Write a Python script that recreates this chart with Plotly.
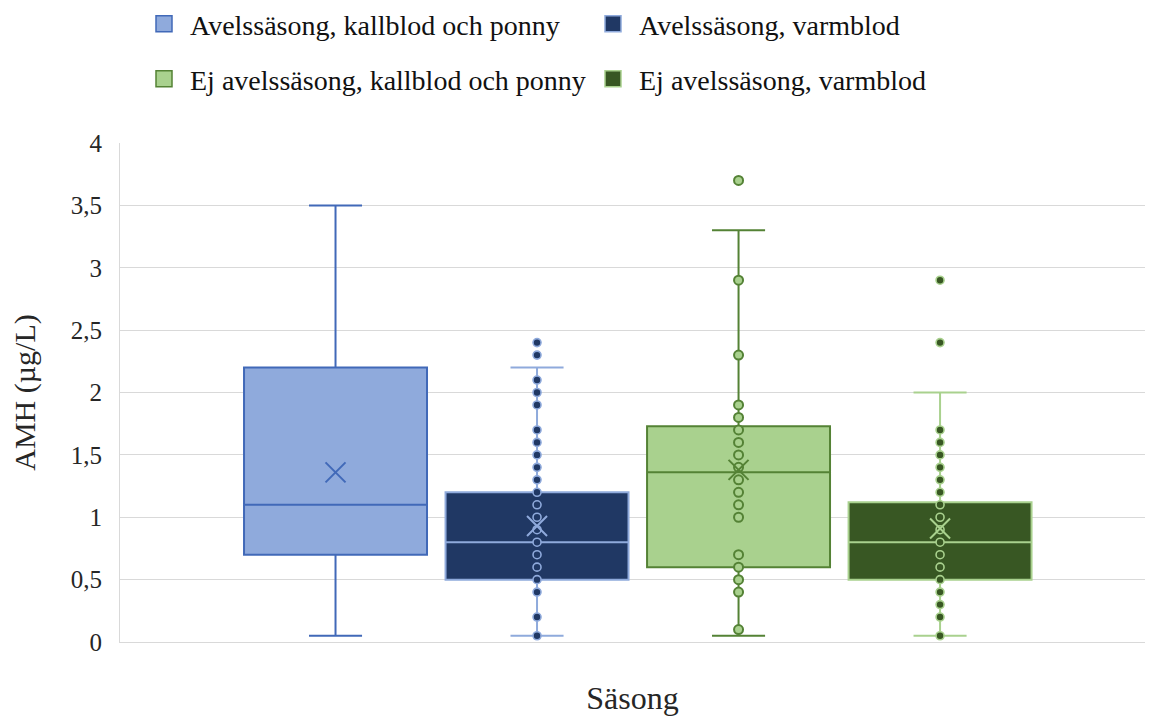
import plotly.graph_objects as go

# Series and summary statistics (AMH, µg/L)
series_names = [
    "Avelssäsong, kallblod och ponny",
    "Avelssäsong, varmblod",
    "Ej avelssäsong, kallblod och ponny",
    "Ej avelssäsong, varmblod",
]
positions = [0, 1, 2, 3]
q1 = [0.7, 0.5, 0.6, 0.5]
medians = [1.1, 0.8, 1.36, 0.8]
q3 = [2.2, 1.2, 1.73, 1.12]
lower_whisker = [0.05, 0.05, 0.05, 0.05]
upper_whisker = [3.5, 2.2, 3.3, 2.0]
means = [1.36, 0.93, 1.38, 0.91]

# Individual observations shown on the boxes
points_avel_kallblod = []
points_avel_varmblod = [2.4, 2.3, 2.1, 2.0, 1.9, 1.7, 1.6, 1.5, 1.4, 1.3, 1.2,
                        1.1, 1.0, 0.9, 0.8, 0.7, 0.6, 0.5, 0.4, 0.2, 0.05]
points_ej_kallblod = [3.7, 2.9, 2.3, 1.9, 1.8, 1.7, 1.6, 1.5, 1.4, 1.3, 1.2,
                      1.1, 1.0, 0.7, 0.6, 0.5, 0.4, 0.1]
points_ej_varmblod = [2.9, 2.4, 1.7, 1.6, 1.5, 1.4, 1.3, 1.2, 1.1, 1.0, 0.9,
                      0.8, 0.7, 0.6, 0.5, 0.4, 0.3, 0.2, 0.05]
all_points = [points_avel_kallblod, points_avel_varmblod,
              points_ej_kallblod, points_ej_varmblod]

y_ticks = [0, 0.5, 1, 1.5, 2, 2.5, 3, 3.5, 4]

fill_colors = ["#8FAADC", "#203864", "#A9D18E", "#385723"]
line_colors = ["#4169B8", "#8FAADC", "#548235", "#A9D18E"]
point_sizes = [8, 8, 9, 8]
point_line_widths = [1.6, 1.6, 2, 1.6]
legend_ids = ["legend", "legend", "legend2", "legend2"]

FONT = "Liberation Serif"
TEXT = "#262626"

fig = go.Figure()

for i, name in enumerate(series_names):
    fig.add_trace(go.Box(
        x=[positions[i]],
        q1=[q1[i]], median=[medians[i]], q3=[q3[i]],
        lowerfence=[lower_whisker[i]], upperfence=[upper_whisker[i]],
        orientation="v",
        width=0.908,
        whiskerwidth=0.29,
        fillcolor=fill_colors[i],
        line=dict(color=line_colors[i], width=2),
        boxpoints=False,
        showlegend=False,
        name=name,
    ))
    if all_points[i]:
        fig.add_trace(go.Scatter(
            x=[positions[i]] * len(all_points[i]),
            y=all_points[i],
            mode="markers",
            marker=dict(size=point_sizes[i], color=fill_colors[i],
                        line=dict(color=line_colors[i], width=point_line_widths[i])),
            showlegend=False,
            name=name,
        ))
    fig.add_trace(go.Scatter(
        x=[positions[i]], y=[means[i]],
        mode="markers",
        marker=dict(symbol="x-thin", size=20,
                    line=dict(color=line_colors[i], width=2)),
        showlegend=False,
        name=name,
    ))

# Legend entries (square swatches)
for i, name in enumerate(series_names):
    fig.add_trace(go.Scatter(
        x=[None], y=[None],
        mode="markers",
        name=name,
        legend=legend_ids[i],
        marker=dict(symbol="square", size=16, color=fill_colors[i],
                    line=dict(color=line_colors[i], width=1.5)),
    ))

legend_style = dict(
    orientation="h",
    xref="container", yref="container",
    xanchor="left", yanchor="middle",
    x=138 / 1155,
    font=dict(family=FONT, size=28, color="#111111"),
    itemwidth=42,
    itemsizing="trace",
    entrywidth=392,
    bgcolor="rgba(0,0,0,0)",
    itemclick=False, itemdoubleclick=False,
)

fig.update_layout(
    width=1155, height=718,
    margin=dict(l=120, r=10, t=143, b=76),
    paper_bgcolor="white",
    plot_bgcolor="white",
    separators=", ",
    font=dict(family=FONT, color=TEXT),
    legend=dict(legend_style, y=1 - 24 / 718),
    legend2=dict(legend_style, y=1 - 79 / 718),
    xaxis=dict(
        range=[-1.0695, 4.017],
        showticklabels=False, ticks="",
        showgrid=False, zeroline=False,
        showline=True, linecolor="#D9D9D9", linewidth=1,
        title=dict(text="Säsong", font=dict(family=FONT, size=32, color=TEXT),
                   standoff=44),
    ),
    yaxis=dict(
        range=[0, 4],
        tickvals=y_ticks,
        ticks="",
        ticklabelstandoff=12,
        tickfont=dict(family=FONT, size=25, color=TEXT),
        showgrid=True, gridcolor="#D9D9D9", gridwidth=1,
        zeroline=False,
        showline=True, linecolor="#D9D9D9", linewidth=1,
        title=dict(text="AMH (µg/L)", font=dict(family=FONT, size=30, color=TEXT),
                   standoff=26),
    ),
)

fig.write_html("out.html")
